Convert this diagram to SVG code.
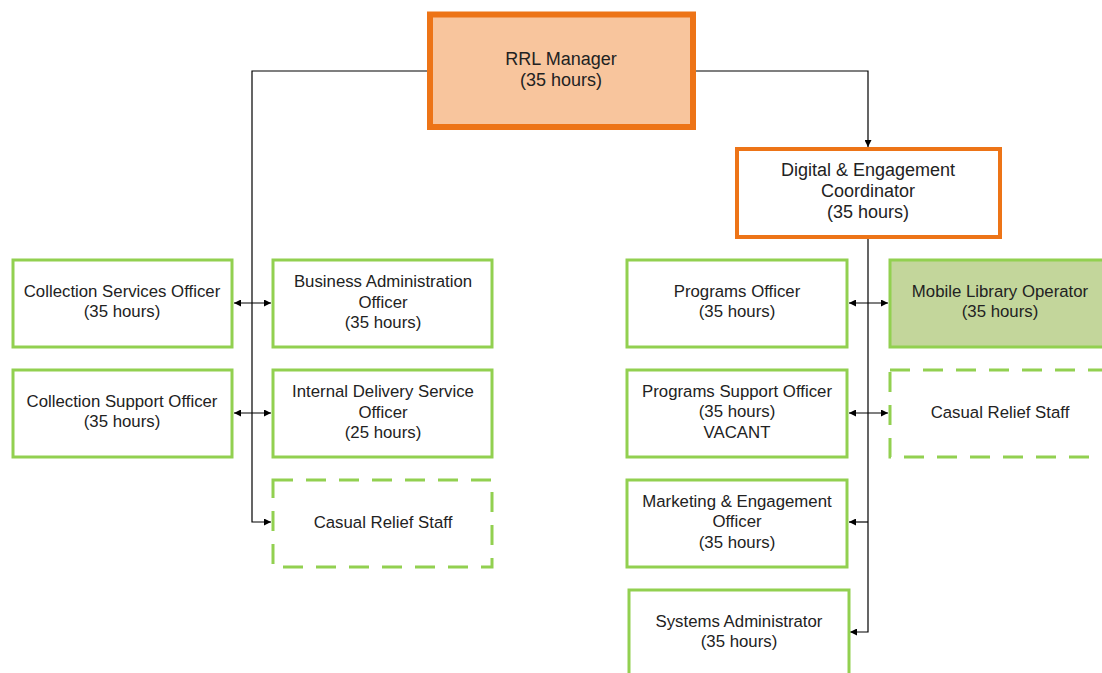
<svg xmlns="http://www.w3.org/2000/svg" width="1102" height="673" viewBox="0 0 1102 673">
<style>
.t{font-family:"Liberation Sans",Arial,sans-serif;font-size:16.8px;fill:#222;text-anchor:middle}
.tl{font-size:18px}
.g{fill:#fff;stroke:#92D050;stroke-width:3}
.gd{fill:#fff;stroke:#92D050;stroke-width:3;stroke-dasharray:20 13}
.o{fill:#fff;stroke:#ED7417;stroke-width:4}
.c{fill:none;stroke:#000;stroke-width:1.2}
</style>
<defs>
<marker id="ah" viewBox="0 0 10 10" refX="10" refY="5" markerWidth="8" markerHeight="7" markerUnits="userSpaceOnUse" orient="auto-start-reverse">
<path d="M0,0 L10,5 L0,10 z" fill="#000"/>
</marker>
</defs>
<g id="connectors">
<path class="c" d="M427,71 H252 V522 H271" marker-end="url(#ah)"/>
<path class="c" d="M696,71 H868 V147" marker-end="url(#ah)"/>
<path class="c" d="M868,238 V632 H850" marker-end="url(#ah)"/>
<path class="c" d="M868,522 H849" marker-end="url(#ah)"/>
<path class="c" d="M234,303 H271" marker-start="url(#ah)" marker-end="url(#ah)"/>
<path class="c" d="M234,413 H271" marker-start="url(#ah)" marker-end="url(#ah)"/>
<path class="c" d="M849,303 H888" marker-start="url(#ah)" marker-end="url(#ah)"/>
<path class="c" d="M849,413 H888" marker-start="url(#ah)" marker-end="url(#ah)"/>
</g>
<g id="rrl-manager">
<rect x="430" y="14.5" width="263" height="112.5" fill="#F8C59D" stroke="#ED7417" stroke-width="6"/>
<text class="t tl" x="561" y="65">RRL Manager</text>
<text class="t tl" x="561" y="86">(35 hours)</text>
</g>
<g id="digital-engagement-coordinator">
<rect class="o" x="737" y="149" width="263" height="88"/>
<text class="t tl" x="868" y="176">Digital &amp; Engagement</text>
<text class="t tl" x="868" y="197">Coordinator</text>
<text class="t tl" x="868" y="218">(35 hours)</text>
</g>
<g id="collection-services-officer">
<rect class="g" x="13" y="260" width="219" height="87"/>
<text class="t" x="122" y="297">Collection Services Officer</text>
<text class="t" x="122" y="317">(35 hours)</text>
</g>
<g id="business-administration-officer">
<rect class="g" x="273" y="260" width="219" height="87"/>
<text class="t" x="383" y="287">Business Administration</text>
<text class="t" x="383" y="308">Officer</text>
<text class="t" x="383" y="328">(35 hours)</text>
</g>
<g id="collection-support-officer">
<rect class="g" x="13" y="370" width="219" height="87"/>
<text class="t" x="122" y="407">Collection Support Officer</text>
<text class="t" x="122" y="427">(35 hours)</text>
</g>
<g id="internal-delivery-service-officer">
<rect class="g" x="273" y="370" width="219" height="87"/>
<text class="t" x="383" y="397">Internal Delivery Service</text>
<text class="t" x="383" y="418">Officer</text>
<text class="t" x="383" y="438">(25 hours)</text>
</g>
<g id="casual-relief-staff-left">
<rect class="gd" x="273" y="480" width="219" height="87"/>
<text class="t" x="383" y="528">Casual Relief Staff</text>
</g>
<g id="programs-officer">
<rect class="g" x="627" y="260" width="220" height="87"/>
<text class="t" x="737" y="297">Programs Officer</text>
<text class="t" x="737" y="317">(35 hours)</text>
</g>
<g id="mobile-library-operator">
<rect x="890" y="260" width="221" height="87" fill="#C3D69B" stroke="#92D050" stroke-width="3"/>
<text class="t" x="1000" y="297">Mobile Library Operator</text>
<text class="t" x="1000" y="317">(35 hours)</text>
</g>
<g id="programs-support-officer">
<rect class="g" x="627" y="370" width="220" height="87"/>
<text class="t" x="737" y="397">Programs Support Officer</text>
<text class="t" x="737" y="417">(35 hours)</text>
<text class="t" x="737" y="438">VACANT</text>
</g>
<g id="casual-relief-staff-right">
<rect class="gd" x="890" y="370" width="221" height="87"/>
<text class="t" x="1000" y="418">Casual Relief Staff</text>
</g>
<g id="marketing-engagement-officer">
<rect class="g" x="627" y="480" width="220" height="87"/>
<text class="t" x="737" y="507">Marketing &amp; Engagement</text>
<text class="t" x="737" y="527">Officer</text>
<text class="t" x="737" y="548">(35 hours)</text>
</g>
<g id="systems-administrator">
<rect class="g" x="629" y="590" width="220" height="100"/>
<text class="t" x="739" y="627">Systems Administrator</text>
<text class="t" x="739" y="647">(35 hours)</text>
</g>
</svg>
